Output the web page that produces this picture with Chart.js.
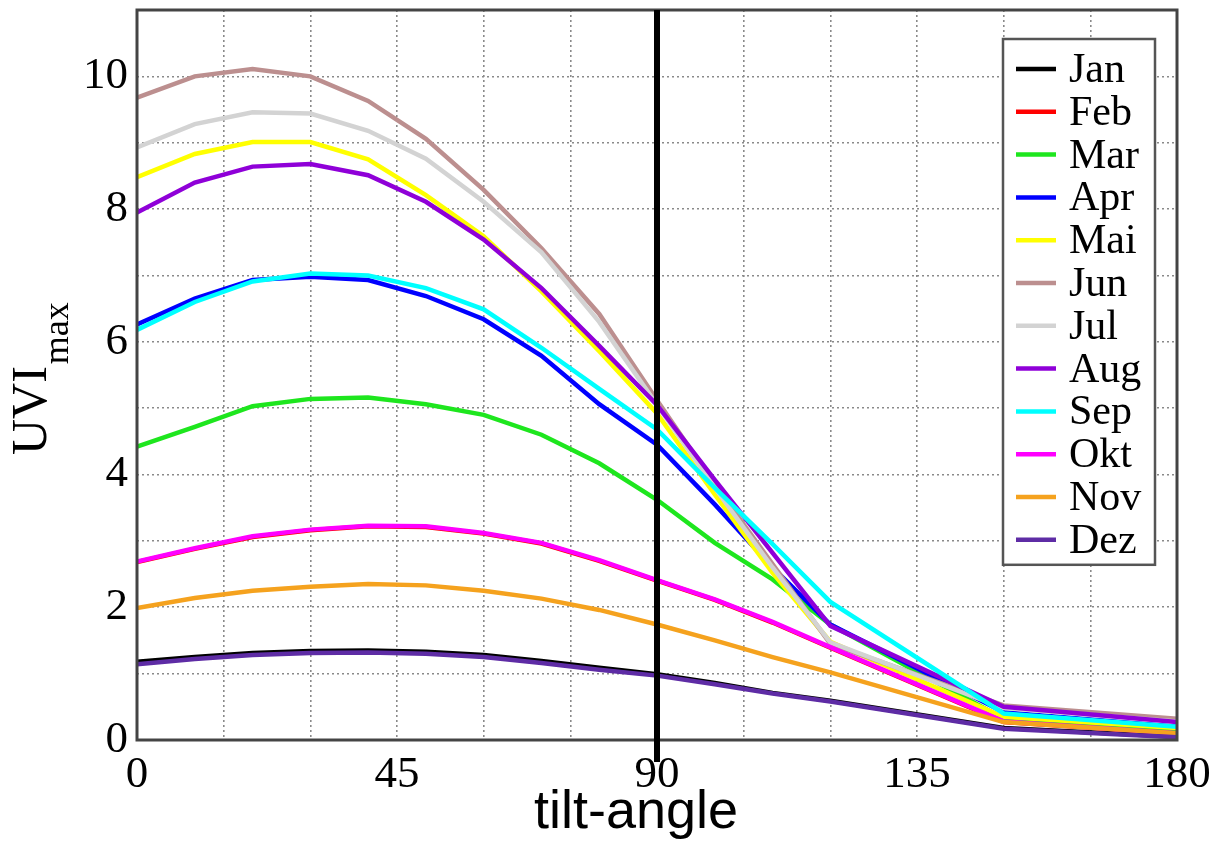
<!DOCTYPE html>
<html>
<head>
<meta charset="utf-8">
<title>UVI max vs tilt-angle</title>
<script src="https://cdn.jsdelivr.net/npm/chart.js@4.4.1/dist/chart.umd.min.js"></script>
<style>
  html, body { margin: 0; padding: 0; background: #fff; }
  #wrap { width: 1223px; height: 851px; position: relative; }
</style>
</head>
<body>
<div id="wrap"><canvas id="uviChart"></canvas></div>
<script>
// tilt angles (deg) where the curves have points
const angles = [0, 10, 20, 30, 40, 50, 60, 70, 80, 90, 100, 110, 120, 150, 180];

// UVI max per month
const jan = [1.18, 1.25, 1.31, 1.34, 1.35, 1.33, 1.28, 1.19, 1.09, 0.99, 0.86, 0.71, 0.59, 0.18, 0.05];
const feb = [2.68, 2.88, 3.06, 3.16, 3.22, 3.21, 3.11, 2.96, 2.70, 2.40, 2.11, 1.77, 1.39, 0.27, 0.10];
const mar = [4.42, 4.72, 5.03, 5.14, 5.16, 5.06, 4.90, 4.60, 4.17, 3.62, 2.97, 2.42, 1.74, 0.32, 0.15];
const apr = [6.26, 6.65, 6.93, 6.98, 6.93, 6.69, 6.34, 5.79, 5.06, 4.45, 3.55, 2.60, 1.74, 0.42, 0.20];
const mai = [8.48, 8.83, 9.01, 9.01, 8.75, 8.21, 7.59, 6.76, 5.86, 4.92, 3.70, 2.52, 1.48, 0.35, 0.18];
const jun = [9.68, 10.00, 10.11, 10.00, 9.63, 9.06, 8.29, 7.41, 6.42, 5.12, 3.85, 2.65, 1.45, 0.52, 0.32];
const jul = [8.93, 9.28, 9.46, 9.44, 9.18, 8.76, 8.11, 7.35, 6.30, 5.05, 3.80, 2.60, 1.47, 0.48, 0.28];
const aug = [7.95, 8.40, 8.64, 8.68, 8.51, 8.11, 7.54, 6.81, 5.94, 5.05, 3.92, 2.82, 1.72, 0.50, 0.27];
const sep = [6.18, 6.60, 6.91, 7.03, 7.00, 6.81, 6.49, 5.91, 5.29, 4.68, 3.80, 2.95, 2.08, 0.40, 0.20];
const okt = [2.69, 2.89, 3.07, 3.17, 3.23, 3.22, 3.12, 2.97, 2.71, 2.41, 2.12, 1.78, 1.40, 0.28, 0.10];
const nov = [1.99, 2.14, 2.25, 2.31, 2.35, 2.33, 2.25, 2.13, 1.96, 1.74, 1.50, 1.25, 1.02, 0.27, 0.10];
const dez = [1.14, 1.22, 1.28, 1.31, 1.32, 1.30, 1.25, 1.16, 1.06, 0.97, 0.84, 0.70, 0.58, 0.17, 0.04];

const monthNames = ['Jan', 'Feb', 'Mar', 'Apr', 'Mai', 'Jun', 'Jul', 'Aug', 'Sep', 'Okt', 'Nov', 'Dez'];
const monthSeries = [jan, feb, mar, apr, mai, jun, jul, aug, sep, okt, nov, dez];
const monthColors = ['#000000', '#ff0000', '#1ee61e', '#0000ff', '#ffff00', '#bc8f8f',
                     '#d3d3d3', '#8f00d8', '#00ffff', '#ff00ff', '#f5a21e', '#5e2ca5'];

// axis ticks
const xMin = 0, xMax = 180, xStep = 15, xLabelEvery = 45;
const yMin = 0, yMax = 11, yStep = 1, yLabelEvery = 2;
const refAngle = 90; // vertical marker line

const serif = "'Liberation Serif', 'Times New Roman', serif";
const sans = "'Liberation Sans', Arial, sans-serif";

// frame around the plot area
const framePlugin = {
  id: 'frame',
  afterDatasetsDraw(chart) {
    const { ctx, chartArea: a } = chart;
    ctx.save();
    ctx.strokeStyle = '#444';
    ctx.lineWidth = 3;
    ctx.strokeRect(a.left, a.top, a.right - a.left, a.bottom - a.top);
    ctx.restore();
  }
};

// thick black line at 90 deg
const refLinePlugin = {
  id: 'refLine',
  afterDatasetsDraw(chart) {
    const { ctx, chartArea: a, scales } = chart;
    const x = scales.x.getPixelForValue(refAngle);
    ctx.save();
    ctx.strokeStyle = '#000';
    ctx.lineWidth = 6;
    ctx.beginPath();
    ctx.moveTo(x, a.top);
    ctx.lineTo(x, a.bottom + 22);
    ctx.stroke();
    ctx.restore();
  }
};

// boxed legend inside the plot, top right
const boxLegendPlugin = {
  id: 'boxLegend',
  afterDraw(chart) {
    const { ctx, chartArea: a } = chart;
    const right = a.right - 22;
    const left = right - 152;
    const top = a.top + 29;
    const rowH = 42.8;
    const bottom = top + 30 + rowH * 11 + 25;
    ctx.save();
    ctx.fillStyle = '#fff';
    ctx.fillRect(left, top, right - left, bottom - top);
    ctx.strokeStyle = '#555';
    ctx.lineWidth = 2.5;
    ctx.strokeRect(left, top, right - left, bottom - top);
    ctx.font = '42px ' + serif;
    ctx.textBaseline = 'middle';
    ctx.fillStyle = '#000';
    chart.data.datasets.forEach((ds, i) => {
      const y = top + 30 + i * rowH;
      ctx.strokeStyle = ds.borderColor;
      ctx.lineWidth = 4.5;
      ctx.beginPath();
      ctx.moveTo(left + 13, y);
      ctx.lineTo(left + 53, y);
      ctx.stroke();
      ctx.fillText(ds.label, left + 66, y + 2);
    });
    ctx.restore();
  }
};

// axis titles: UVI with "max" subscript, and tilt-angle
const axisTitlesPlugin = {
  id: 'axisTitles',
  afterDraw(chart) {
    const { ctx } = chart;
    ctx.save();
    ctx.fillStyle = '#000';
    ctx.translate(46, 455);
    ctx.rotate(-Math.PI / 2);
    ctx.font = '50px ' + serif;
    ctx.textBaseline = 'alphabetic';
    ctx.fillText('UVI', 0, 0);
    const w = ctx.measureText('UVI').width;
    ctx.font = '36px ' + serif;
    ctx.fillText('max', w + 2, 22);
    ctx.restore();

    ctx.save();
    ctx.fillStyle = '#000';
    ctx.font = '54px ' + sans;
    ctx.textAlign = 'center';
    ctx.textBaseline = 'alphabetic';
    ctx.fillText('tilt-angle', 636, 828);
    ctx.restore();
  }
};

function buildDatasets() {
  // lower order is painted last, so Dez ends up on top like in the original
  return monthNames.map((name, i) => ({
    label: name,
    data: angles.map((a, k) => ({ x: a, y: monthSeries[i][k] })),
    borderColor: monthColors[i],
    backgroundColor: monthColors[i],
    borderWidth: 4.5,
    pointRadius: 0,
    tension: 0,
    fill: false,
    order: monthNames.length - 1 - i,
  }));
}

const ctxUvi = document.getElementById('uviChart');
try {
  new Chart(ctxUvi, {
    type: 'line',
    data: { datasets: buildDatasets() },
    options: {
      responsive: true,
      maintainAspectRatio: false,
      animation: false,
      layout: { padding: { top: 10, right: 46, left: 0, bottom: 0 } },
      plugins: {
        legend: { display: false },
        tooltip: { enabled: false },
      },
      scales: {
        x: {
          type: 'linear',
          min: xMin,
          max: xMax,
          afterFit: (scale) => {
            scale.height = 111;
            scale.paddingLeft = 0;
            scale.paddingRight = 0;
          },
          ticks: {
            stepSize: xStep,
            autoSkip: false,
            maxRotation: 0,
            padding: 8,
            color: '#000',
            font: { family: serif, size: 45 },
            callback: (v) => (v % xLabelEvery === 0 ? String(v) : ''),
          },
          grid: {
            color: '#8a8a8a',
            lineWidth: 1.6,
            drawTicks: false,
          },
          border: { display: false, dash: [2, 3] },
        },
        y: {
          min: yMin,
          max: yMax,
          afterFit: (scale) => {
            scale.width = 137;
            scale.paddingTop = 0;
            scale.paddingBottom = 0;
          },
          ticks: {
            stepSize: yStep,
            autoSkip: false,
            padding: 9,
            color: '#000',
            font: { family: serif, size: 45 },
            callback: (v) => (v % yLabelEvery === 0 ? String(v) : ''),
          },
          grid: {
            color: '#8a8a8a',
            lineWidth: 1.6,
            drawTicks: false,
          },
          border: { display: false, dash: [2, 3] },
        },
      },
    },
    plugins: [framePlugin, refLinePlugin, boxLegendPlugin, axisTitlesPlugin],
  });
} catch (error) {
  console.error('UVI chart initialization failed:', error);
}
</script>
</body>
</html>
